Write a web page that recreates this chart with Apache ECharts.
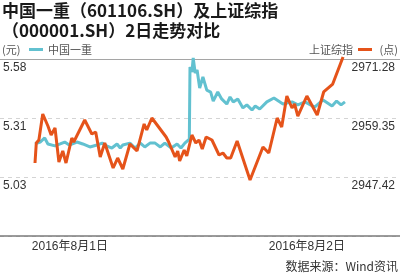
<!DOCTYPE html>
<html>
<head>
<meta charset="utf-8">
<script src="https://cdn.jsdelivr.net/npm/echarts@6/dist/echarts.min.js"></script>
<style>
html,body{margin:0;padding:0;background:#fff;}
#c{width:400px;height:273px;}
</style>
</head>
<body>
<div id="c"></div>
<script>
// trading minutes from open of 2016-08-01 (0..480 over two sessions)
const stockTimes = [0,8,15,20,31,39,46,53,65,74,85,96,104,111,119,127,132,136,147,155,163,170,178,186,194,201,211,220,226,232,239,240,243,245,248,251,255,260,266,272,276,283,289,297,302,307,314,322,328,336,341,348,359,370,384,398,407,418,433,446,460,467,474,480];
const stockValues = [5.189,5.198,5.217,5.189,5.180,5.189,5.198,5.184,5.198,5.189,5.175,5.184,5.193,5.180,5.170,5.189,5.170,5.184,5.193,5.170,5.193,5.175,5.193,5.193,5.175,5.193,5.170,5.189,5.170,5.193,5.212,5.548,5.524,5.590,5.520,5.534,5.450,5.501,5.440,5.431,5.389,5.431,5.399,5.375,5.408,5.385,5.399,5.357,5.371,5.347,5.366,5.352,5.385,5.403,5.375,5.385,5.371,5.385,5.361,5.394,5.366,5.389,5.371,5.385];

const indexTimes = [0,2,6,12,20,25,31,37,43,48,57,60,77,88,94,101,108,121,128,136,147,158,169,173,181,203,207,217,221,224,231,235,243,249,254,259,265,274,285,291,297,303,313,333,353,362,375,382,390,398,402,407,421,437,447,461,477];
const indexValues = [2950.25,2954.30,2954.90,2960.16,2957.73,2955.91,2957.33,2950.45,2952.68,2950.25,2955.31,2954.50,2958.95,2956.11,2956.52,2951.46,2954.30,2949.24,2951.26,2949.04,2954.09,2952.68,2958.14,2956.92,2959.35,2955.51,2954.50,2951.46,2952.68,2950.66,2952.88,2951.67,2955.91,2954.30,2954.90,2953.08,2955.51,2954.90,2951.87,2952.27,2951.26,2951.26,2954.70,2946.81,2953.49,2952.27,2959.35,2957.53,2963.80,2961.37,2962.18,2959.75,2963.80,2959.96,2964.61,2966.22,2971.68];

const stockName = '中国一重';
const indexName = '上证综指';
const leftUnit = '(元)';
const rightUnit = '(点)';
const leftTicks = [5.035, 5.31, 5.585];
const leftTickLabels = ['5.03', '5.31', '5.58'];
const rightTicks = [2947.42, 2959.35, 2971.28];
const rightTickLabels = ['2947.42', '2959.35', '2971.28'];
const dateTicks = [54, 421];
const dateTickLabels = ['2016年8月1日', '2016年8月2日'];

const FONT = '"Liberation Sans", "Noto Sans CJK SC", sans-serif';
const CJK = '"Noto Sans CJK SC", sans-serif';
const CYAN = '#62c1d0';
const ORANGE = '#e5531a';
const unitStyle = {fontSize: 11, fontWeight: 'normal', color: '#555', fontFamily: CJK};

const chart = echarts.init(document.getElementById('c'), null, {renderer: 'canvas'});
chart.setOption({
  animation: false,
  backgroundColor: '#fff',
  title: [
    {
      text: '中国一重（601106.SH）及上证综指\n（000001.SH）2日走势对比',
      left: 0, top: 1, padding: [0, 0, 0, 2],
      textStyle: {fontSize: 17, fontWeight: 'bold', color: '#1a1a1a', lineHeight: 20, fontFamily: CJK}
    },
    {
      text: '数据来源：Wind资讯',
      right: 2, bottom: 1, padding: 0,
      textStyle: {fontSize: 12, fontWeight: 'normal', color: '#333', fontFamily: CJK}
    },
    {text: leftUnit, left: 2, top: 44, padding: 0, textStyle: unitStyle},
    {text: rightUnit, right: 2, top: 44, padding: 0, textStyle: unitStyle}
  ],
  legend: [
    {
      data: [stockName], left: 29, top: 44, padding: 0, icon: 'rect', itemWidth: 14, itemHeight: 3, itemGap: 4,
      textStyle: {fontSize: 11, color: '#555', fontFamily: CJK}
    },
    {
      data: [indexName], right: 28, top: 44, padding: 0, icon: 'rect', itemWidth: 14, itemHeight: 3, align: 'right',
      textStyle: {fontSize: 11, color: '#555', fontFamily: CJK}
    }
  ],
  grid: {left: 0, right: 0, top: 59, bottom: 37, containLabel: false, outerBoundsMode: 'none'},
  xAxis: [
    {
      type: 'value', min: -54.2, max: 565.2, position: 'bottom',
      axisLine: {show: true, lineStyle: {color: '#7a7a7a', width: 1.5}},
      axisTick: {show: false},
      splitLine: {show: false},
      axisLabel: {
        customValues: dateTicks, margin: 5, fontSize: 12, color: '#333', fontFamily: FONT,
        formatter: v => dateTickLabels[dateTicks.indexOf(v)]
      }
    },
    {
      type: 'value', min: 0, max: 1, position: 'top',
      axisLine: {show: true, lineStyle: {color: '#a5a5a5', width: 1.2}},
      axisTick: {show: false}, axisLabel: {show: false}, splitLine: {show: false}
    }
  ],
  yAxis: [
    {
      type: 'value', min: 4.76, max: 5.585, position: 'left',
      axisLine: {show: false}, axisTick: {show: false}, splitLine: {show: false},
      axisLabel: {
        customValues: leftTicks, inside: true, margin: 3, verticalAlign: 'top', padding: [3, 0, 0, 0],
        fontSize: 12, color: '#333', fontFamily: FONT,
        formatter: v => leftTickLabels[leftTicks.indexOf(v)]
      }
    },
    {
      type: 'value', min: 2935.49, max: 2971.28, position: 'right',
      axisLine: {show: false}, axisTick: {show: false}, splitLine: {show: false},
      axisLabel: {
        customValues: rightTicks, inside: true, margin: 5, verticalAlign: 'top', padding: [3, 0, 0, 0],
        fontSize: 12, color: '#333', fontFamily: FONT,
        formatter: v => rightTickLabels[rightTicks.indexOf(v)]
      }
    },
    {
      type: 'value', min: 0, max: 3, interval: 1, position: 'left', show: true,
      axisLine: {show: false}, axisTick: {show: false}, axisLabel: {show: false},
      splitLine: {show: true, lineStyle: {color: '#d4d4d4', type: [4, 4], width: 1}}
    }
  ],
  series: [
    {
      name: stockName, type: 'line', xAxisIndex: 0, yAxisIndex: 0,
      data: stockTimes.map((t, i) => [t, stockValues[i]]),
      showSymbol: false, clip: false, color: CYAN,
      lineStyle: {color: CYAN, width: 3}, z: 2
    },
    {
      name: indexName, type: 'line', xAxisIndex: 0, yAxisIndex: 1,
      data: indexTimes.map((t, i) => [t, indexValues[i]]),
      showSymbol: false, clip: false, color: ORANGE,
      lineStyle: {color: ORANGE, width: 3}, z: 3
    }
  ]
});
</script>
</body>
</html>
